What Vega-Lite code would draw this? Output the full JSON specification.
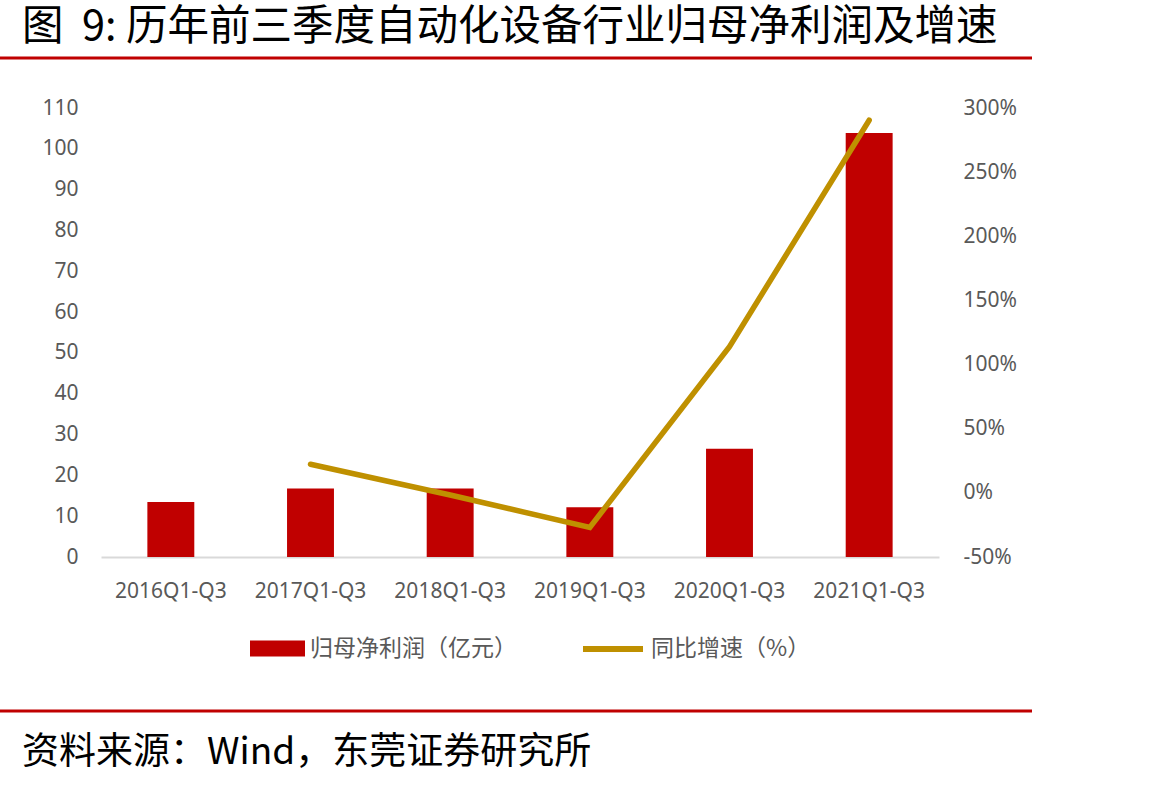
{
  "$schema": "https://vega.github.io/schema/vega-lite/v6.json",
  "width": 838,
  "height": 449,
  "autosize": {"type": "none"},
  "padding": {"left": 101, "top": 108, "right": 226, "bottom": 228},
  "background": "white",
  "config": {
    "view": {"stroke": null},
    "font": "Noto Sans CJK SC",
    "legend": {"padding": 0}
  },
  "data": {
    "values": [
      {"period": "2016Q1-Q3", "profit": 13.5, "growth": null},
      {"period": "2017Q1-Q3", "profit": 16.8, "growth": 22.3},
      {"period": "2018Q1-Q3", "profit": 16.8, "growth": -1.7},
      {"period": "2019Q1-Q3", "profit": 12.2, "growth": -26.9},
      {"period": "2020Q1-Q3", "profit": 26.5, "growth": 113.9},
      {"period": "2021Q1-Q3", "profit": 103.9, "growth": 290.5}
    ]
  },
  "layer": [
    {
      "mark": {"type": "bar", "color": "#C00000"},
      "encoding": {
        "x": {
          "field": "period",
          "type": "nominal",
          "sort": null,
          "scale": {"paddingInner": 0.664, "paddingOuter": 0.332},
          "axis": {
            "title": null,
            "labelAngle": 0,
            "labelFont": "Noto Sans",
            "labelFontSize": 21,
            "labelColor": "#595959",
            "labelPadding": 23,
            "ticks": false,
            "grid": false,
            "domainColor": "#D9D9D9",
            "domainWidth": 2
          }
        },
        "y": {
          "field": "profit",
          "type": "quantitative",
          "scale": {"domain": [0, 110], "nice": false},
          "axis": {
            "title": null,
            "values": [0, 10, 20, 30, 40, 50, 60, 70, 80, 90, 100, 110],
            "labelFont": "Noto Sans",
            "labelFontSize": 21,
            "labelColor": "#595959",
            "labelPadding": 23,
            "ticks": false,
            "domain": false,
            "grid": false
          }
        },
        "fill": {
          "datum": "归母净利润（亿元）",
          "type": "nominal",
          "scale": {"range": ["#C00000"]},
          "legend": {
            "title": null,
            "orient": "none",
            "legendX": 149,
            "legendY": 513,
            "symbolType": "M-1,-0.29H1V0.29H-1Z",
            "symbolSize": 3025,
            "symbolStrokeWidth": 0,
            "labelFont": "Noto Sans CJK SC",
            "labelFontSize": 23,
            "labelColor": "#595959",
            "labelOffset": 5,
            "labelLimit": 400
          }
        }
      }
    },
    {
      "mark": {"type": "line", "color": "#BF9000", "strokeWidth": 5.5, "strokeCap": "round"},
      "encoding": {
        "x": {"field": "period", "type": "nominal", "sort": null},
        "y": {
          "field": "growth",
          "type": "quantitative",
          "scale": {"domain": [-50, 300], "nice": false},
          "axis": {
            "orient": "right",
            "title": null,
            "values": [-50, 0, 50, 100, 150, 200, 250, 300],
            "labelExpr": "datum.value + '%'",
            "labelFont": "Noto Sans",
            "labelFontSize": 21,
            "labelColor": "#595959",
            "labelPadding": 24,
            "ticks": false,
            "domain": false,
            "grid": false
          }
        },
        "stroke": {
          "datum": "同比增速（%）",
          "type": "nominal",
          "scale": {"range": ["#BF9000"]},
          "legend": {
            "title": null,
            "orient": "none",
            "legendX": 479,
            "legendY": 508,
            "symbolType": "stroke",
            "symbolSize": 3600,
            "symbolStrokeWidth": 6,
            "labelFont": "Noto Sans CJK SC",
            "labelFontSize": 23,
            "labelColor": "#595959",
            "labelOffset": 5,
            "labelLimit": 400
          }
        }
      }
    },
    {
      "data": {"values": [{"edge": "header"}]},
      "mark": {"type": "rule", "color": "#C00000", "strokeWidth": 3},
      "encoding": {"x": {"value": -101}, "x2": {"value": 931}, "y": {"value": -50}}
    },
    {
      "data": {"values": [{"edge": "footer"}]},
      "mark": {"type": "rule", "color": "#C00000", "strokeWidth": 3},
      "encoding": {"x": {"value": -101}, "x2": {"value": 931}, "y": {"value": 603}}
    },
    {
      "data": {"values": [{"heading": "图\u00a0\u00a09: 历年前三季度自动化设备行业归母净利润及增速"}]},
      "mark": {
        "type": "text",
        "align": "left",
        "baseline": "top",
        "font": "Noto Sans CJK SC",
        "fontSize": 41.5,
        "fontWeight": "normal",
        "color": "#000000"
      },
      "encoding": {
        "text": {"field": "heading", "type": "nominal"},
        "x": {"value": -79},
        "y": {"value": -101}
      }
    },
    {
      "data": {"values": [{"note": "资料来源：Wind，东莞证券研究所"}]},
      "mark": {
        "type": "text",
        "align": "left",
        "baseline": "middle",
        "font": "Noto Sans CJK SC",
        "fontSize": 37,
        "color": "#000000"
      },
      "encoding": {
        "text": {"field": "note", "type": "nominal"},
        "x": {"value": -79},
        "y": {"value": 645}
      }
    }
  ],
  "resolve": {"scale": {"y": "independent"}}
}
